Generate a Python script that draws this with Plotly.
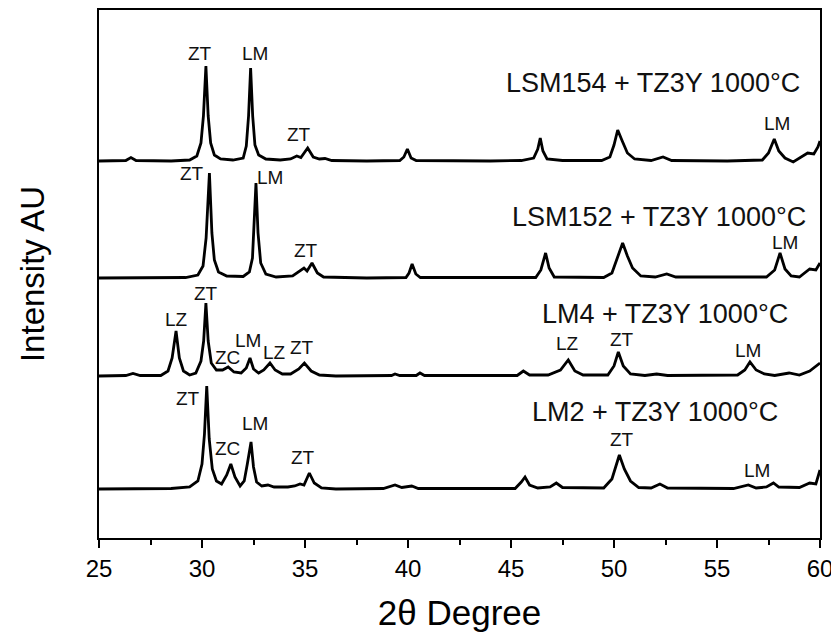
import plotly.graph_objects as go

# 2-theta positions (degrees) and intensities (AU, relative to each pattern's baseline)
two_theta_lsm154 = [25.0, 26.3, 26.55, 26.8, 28.5, 29.4, 29.75, 29.95, 30.07, 30.19, 30.3, 30.42, 30.6, 30.9,
                    31.5, 32.0, 32.15, 32.26, 32.36, 32.46, 32.57, 32.75, 33.1, 33.8, 34.3, 34.6, 34.8, 35.13,
                    35.4, 35.7, 35.97, 36.3, 38.0, 39.6, 39.8, 39.97, 40.15, 40.4, 44.0, 45.5, 46.1, 46.3,
                    46.42, 46.55, 46.75, 47.5, 49.4, 49.8, 50.0, 50.18, 50.4, 50.65, 51.0, 51.8, 52.38, 52.8,
                    55.5, 57.2, 57.5, 57.78, 58.0, 58.3, 58.7, 59.1, 59.4, 59.7, 59.9, 60.0]
intensity_lsm154 = [0, 0.5, 3.5, 0.5, 0, 1, 5, 18, 45, 95, 45, 18, 6, 2,
                    1, 3, 15, 45, 93, 45, 16, 6, 2, 1, 2, 5, 3.5, 13,
                    4, 2, 2.5, 0.5, 0, 0.5, 4, 12, 3, 0.5, 0, 0.5, 3, 12,
                    23, 10, 2, 0.5, 0.5, 4, 16, 31, 20, 8, 2, 0.5, 4, 0.5,
                    0, 1, 8, 22, 10, 3, -1, 4, 8, 7, 14, 20]

two_theta_lsm152 = [25.0, 27.0, 29.2, 29.8, 30.05, 30.2, 30.36, 30.48, 30.6, 30.8, 31.2, 32.0, 32.3, 32.45,
                    32.53, 32.62, 32.72, 32.85, 33.1, 33.6, 34.4, 34.75, 34.95, 35.1, 35.34, 35.6, 35.9, 38.0,
                    39.9, 40.05, 40.2, 40.38, 40.6, 46.2, 46.45, 46.68, 46.85, 47.1, 49.5, 49.9, 50.15, 50.42,
                    50.65, 50.9, 51.3, 52.0, 52.56, 53.0, 57.4, 57.8, 58.06, 58.3, 58.6, 59.0, 59.5, 59.8, 60.0]
intensity_lsm152 = [0, 0, 0.5, 3, 12, 40, 105, 45, 18, 6, 2, 1.5, 6, 20,
                    50, 95, 45, 15, 4, 1, 2, 7, 10, 7, 15, 5, 1, 0,
                    0.5, 5, 14, 4, 0.5, 0.5, 8, 25, 10, 1, 0.5, 5, 20, 35,
                    22, 10, 2, 1, 4, 1, 1, 8, 25, 9, 2, 1, 9, 8, 15]

two_theta_lm4 = [25.0, 26.3, 26.65, 27.0, 28.0, 28.35, 28.55, 28.74, 28.9, 29.1, 29.4, 29.7, 29.95, 30.08,
                 30.19, 30.3, 30.45, 30.7, 31.0, 31.27, 31.55, 31.9, 32.15, 32.33, 32.5, 32.75, 33.0, 33.3,
                 33.55, 33.9, 34.3, 34.7, 34.97, 35.3, 35.7, 36.5, 39.2, 39.37, 39.6, 40.4, 40.58, 40.8,
                 45.3, 45.6, 45.9, 46.8, 47.4, 47.78, 48.1, 48.5, 49.7, 50.0, 50.21, 50.45, 50.8, 51.5,
                 52.07, 52.6, 56.0, 56.35, 56.6, 56.9, 57.3, 57.8, 58.5, 59.0, 59.5, 60.0]
intensity_lm4 = [0, 0.5, 2.5, 0.5, 0.5, 5, 18, 45, 18, 5, 1, 3, 15, 35,
                 73, 35, 13, 6, 6, 9, 4, 3, 8, 18, 7, 3, 6, 13,
                 6, 2, 2, 7, 13, 5, 1, 0, 0.5, 2, 0.5, 0.5, 3, 0.5,
                 0.5, 5, 1, 1, 6, 16, 5, 1, 1, 10, 24, 10, 2, 0.5,
                 2, 0.5, 1, 6, 14, 6, 2, 0.5, 3, 1, 5, 13]

two_theta_lm2 = [25.0, 28.5, 29.4, 29.8, 30.0, 30.12, 30.23, 30.35, 30.5, 30.7, 30.95, 31.2, 31.4, 31.6,
                 31.85, 32.05, 32.2, 32.38, 32.5, 32.65, 32.9, 33.2, 33.5, 34.17, 34.5, 34.76, 34.95, 35.21,
                 35.45, 35.8, 36.5, 38.8, 39.37, 39.7, 40.18, 40.5, 45.2, 45.5, 45.68, 45.9, 46.3, 46.9,
                 47.2, 47.5, 49.5, 49.9, 50.26, 50.5, 50.8, 51.2, 51.8, 52.23, 52.6, 55.8, 56.52, 56.9,
                 57.4, 57.74, 58.0, 59.0, 59.5, 59.8, 60.0]
intensity_lm2 = [0, 0.5, 2, 8, 25, 55, 103, 50, 20, 8, 5, 14, 25, 12,
                 3, 8, 25, 47, 22, 7, 3, 4, 2, 2, 3, 5, 4, 16,
                 6, 1, 0, 0.5, 4, 1.5, 3, 0.5, 0.5, 7, 12, 4, 1, 2,
                 6, 1.5, 1, 10, 34, 20, 8, 1.5, 1, 5, 1, 0.5, 4, 1,
                 2, 6, 2, 1.5, 6, 5, 19]

# vertical stacking offsets of the patterns
offsets = {"LSM154": 377, "LSM152": 260, "LM4": 162, "LM2": 49}

patterns = [
    ("LSM154", two_theta_lsm154, intensity_lsm154),
    ("LSM152", two_theta_lsm152, intensity_lsm152),
    ("LM4", two_theta_lm4, intensity_lm4),
    ("LM2", two_theta_lm2, intensity_lm2),
]

# (text, 2theta, y, font size)
labels = [
    ("ZT", 29.9, 485, 19), ("LM", 32.57, 485, 19), ("ZT", 34.71, 404, 19),
    ("LSM154 + TZ3Y 1000°C", 51.89, 455, 27), ("LM", 57.91, 415, 19),
    ("ZT", 29.51, 365, 19), ("LM", 33.3, 361, 19), ("ZT", 35.05, 288, 19),
    ("LSM152 + TZ3Y 1000°C", 52.18, 321, 27), ("LM", 58.3, 296, 19),
    ("ZT", 30.19, 245, 19), ("LZ", 28.74, 219, 19), ("ZC", 31.26, 181, 19),
    ("LM", 32.23, 198, 19), ("LZ", 33.54, 186, 19), ("ZT", 34.85, 191, 19),
    ("LM4 + TZ3Y 1000°C", 52.48, 224, 27), ("LZ", 47.72, 195, 19),
    ("ZT", 50.39, 199, 19), ("LM", 56.5, 188, 19),
    ("ZT", 29.32, 140, 19), ("ZC", 31.26, 90, 19), ("LM", 32.57, 115, 19),
    ("ZT", 34.9, 81, 19), ("LM2 + TZ3Y 1000°C", 51.99, 126, 27),
    ("ZT", 50.39, 99, 19), ("LM", 56.94, 68, 19),
]

FONT = "Liberation Sans, Arial, sans-serif"

fig = go.Figure()
for name, xs, ys in patterns:
    fig.add_trace(go.Scatter(
        x=xs,
        y=[v + offsets[name] for v in ys],
        mode="lines",
        line=dict(color="black", width=2.8),
        name=name,
        showlegend=False,
    ))

for text, x, y, size in labels:
    fig.add_annotation(x=x, y=y, text=text, showarrow=False,
                       font=dict(family=FONT, size=size, color="#111"))

# the page body adds an 8px margin, so the figure is sized to fit inside the window
fig.update_layout(
    width=831,
    height=629,
    margin=dict(l=91, r=19, t=2, b=99),
    plot_bgcolor="white",
    paper_bgcolor="white",
    font=dict(family=FONT, color="black"),
)
fig.update_xaxes(
    range=[25, 60],
    tickvals=[25, 30, 35, 40, 45, 50, 55, 60],
    ticks="outside",
    ticklen=8,
    tickwidth=2,
    tickcolor="black",
    minor=dict(dtick=2.5, ticks="outside", ticklen=5, tickwidth=2, tickcolor="black"),
    tickfont=dict(size=24),
    showline=True,
    linewidth=2,
    linecolor="black",
    mirror=True,
    showgrid=False,
    zeroline=False,
    automargin=False,
    title=dict(text="2θ Degree", font=dict(size=35), standoff=20),
)
fig.update_yaxes(
    range=[0, 528],
    showticklabels=False,
    ticks="",
    showline=True,
    linewidth=2,
    linecolor="black",
    mirror=True,
    showgrid=False,
    zeroline=False,
    automargin=False,
    title=dict(text="Intensity AU", font=dict(size=33), standoff=42),
)

fig.write_html("out.html")
